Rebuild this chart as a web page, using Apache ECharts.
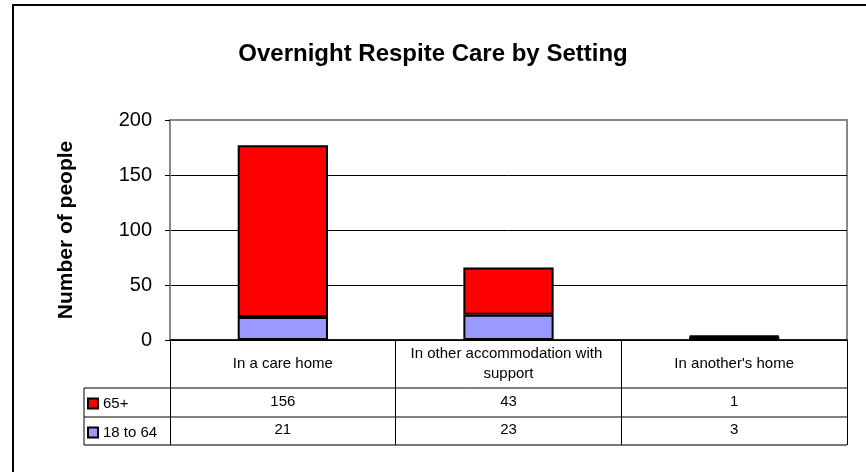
<!DOCTYPE html>
<html><head><meta charset="utf-8">
<script src="https://cdn.jsdelivr.net/npm/echarts@6/dist/echarts.min.js"></script>
<style>html,body{margin:0;padding:0;background:#fff}#c{width:866px;height:472px}</style>
</head><body><div id="c"></div>
<script>
const categories = ["In a care home", "In other accommodation with support", "In another's home"];
const seniors = [156, 43, 1];      // 65+
const adults = [21, 23, 3];        // 18 to 64
const yTicks = [0, 50, 100, 150, 200];

const G = {left: 170, right: 19, top: 120, bottom: 132};
const W = 866, H = 472;
const x0 = G.left, x1 = W - G.right, yAxis = H - G.bottom;
const rowCat = yAxis + 48, row1 = rowCat + 29, row2 = row1 + 28;
const tableLeft = 84;
const font = 'Arial, "Liberation Sans", sans-serif';

const chart = echarts.init(document.getElementById('c'));
chart.setOption({
  animation: false,
  backgroundColor: '#fff',
  title: {text: 'Overnight Respite Care by Setting', left: 'center', top: 37,
    textStyle: {fontFamily: font, fontSize: 24, fontWeight: 'bold', color: '#000'}},
  grid: {left: G.left, right: G.right, top: G.top, bottom: G.bottom, show: true,
    borderColor: '#888', borderWidth: 2, backgroundColor: 'transparent'},
  legend: [
    {data: ['65+'], icon: 'rect', left: 82, top: rowCat + 3, itemWidth: 10, itemHeight: 10, selectedMode: false,
     itemStyle: {borderColor: '#000', borderWidth: 2},
     textStyle: {fontFamily: font, fontSize: 15, color: '#000'}},
    {data: ['18 to 64'], icon: 'rect', left: 82, top: row1 + 3, itemWidth: 10, itemHeight: 10, selectedMode: false,
     itemStyle: {borderColor: '#000', borderWidth: 2},
     textStyle: {fontFamily: font, fontSize: 15, color: '#000'}}
  ],
  xAxis: [
    {type: 'category', data: categories, position: 'bottom',
     axisLine: {lineStyle: {color: '#000', width: 1.5}},
     axisTick: {show: true, length: row2 - yAxis, lineStyle: {color: '#000', width: 1}},
     axisLabel: {fontFamily: font, fontSize: 15, color: '#000', margin: 24, verticalAlign: 'middle',
       width: 210, overflow: 'break', lineHeight: 20, interval: 0, align: 'center'}},
    {type: 'category', data: categories, position: 'bottom', gridIndex: 0,
     axisLine: {show: false}, axisTick: {show: false},
     axisLabel: {fontFamily: font, fontSize: 15, color: '#000', margin: 62, verticalAlign: 'middle', interval: 0,
       formatter: (v, i) => String(seniors[i])}},
    {type: 'category', data: categories, position: 'bottom', gridIndex: 0,
     axisLine: {show: false}, axisTick: {show: false},
     axisLabel: {fontFamily: font, fontSize: 15, color: '#000', margin: 90, verticalAlign: 'middle', interval: 0,
       formatter: (v, i) => String(adults[i])}}
  ],
  yAxis: {type: 'value', min: yTicks[0], max: yTicks[yTicks.length - 1], interval: 50,
    name: 'Number of people', nameLocation: 'middle', nameGap: 93, nameRotate: 90,
    nameTextStyle: {fontFamily: font, fontSize: 21, fontWeight: 'bold', color: '#000'},
    axisLine: {show: true, lineStyle: {color: '#888', width: 2}},
    axisTick: {show: true, length: 5, lineStyle: {color: '#000'}},
    axisLabel: {fontFamily: font, fontSize: 20, color: '#000', margin: 18},
    splitLine: {showMaxLine: false, lineStyle: {color: '#000', width: 1}}},
  series: [
    {name: '18 to 64', type: 'bar', stack: 's', data: adults, barWidth: '40%',
     itemStyle: {color: '#9999FF', borderColor: '#000', borderWidth: 2}},
    {name: '65+', type: 'bar', stack: 's', data: seniors, barWidth: '40%',
     itemStyle: {color: '#FF0000', borderColor: '#000', borderWidth: 2}}
  ],
  graphic: [
    {type: 'rect', shape: {x: 13, y: 5, width: 900, height: 600}, silent: true,
     style: {fill: 'none', stroke: '#000', lineWidth: 2}},
    {type: 'line', shape: {x1: tableLeft, y1: rowCat, x2: x1, y2: rowCat}, style: {stroke: '#000', lineWidth: 1}},
    {type: 'line', shape: {x1: tableLeft, y1: row1, x2: x1, y2: row1}, style: {stroke: '#000', lineWidth: 1}},
    {type: 'line', shape: {x1: tableLeft, y1: row2, x2: x1, y2: row2}, style: {stroke: '#777', lineWidth: 2}},
    {type: 'line', shape: {x1: tableLeft, y1: rowCat, x2: tableLeft, y2: row2}, style: {stroke: '#000', lineWidth: 1}}
  ]
});
</script></body></html>
